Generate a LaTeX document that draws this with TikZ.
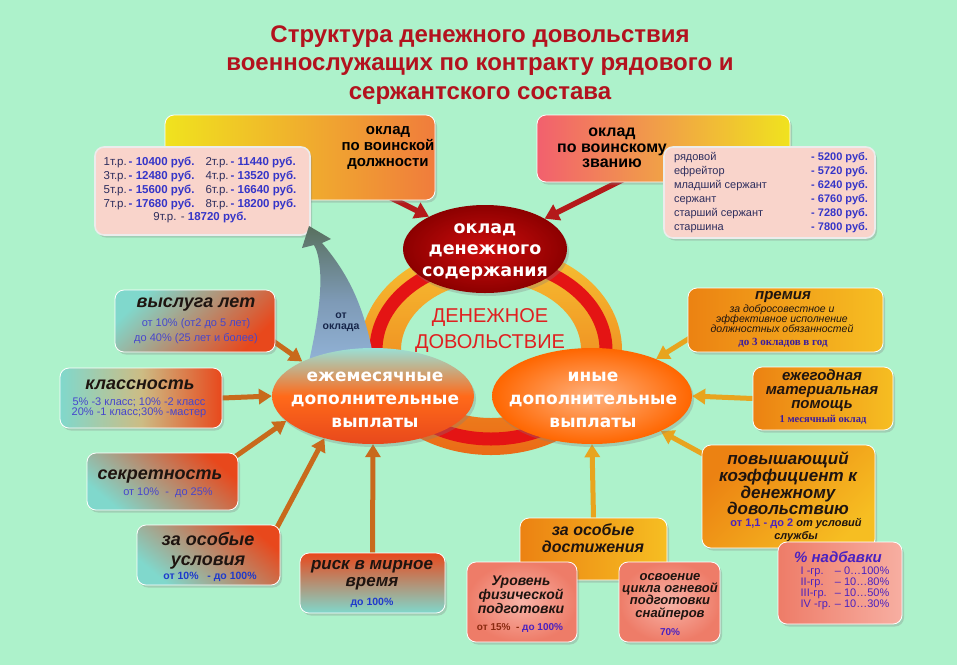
\documentclass[tikz,border=0pt]{standalone}
\usepackage{fontspec}
\setmainfont{Liberation Sans}
\newfontfamily\dvs{DejaVu Sans}
\newfontfamily\serifb{Liberation Serif}
\usetikzlibrary{shadows,arrows.meta,shapes.geometric,calc}
\pgfdeclarelayer{bgl}
\pgfdeclarelayer{arl}
\pgfsetlayers{bgl,arl,main}
\definecolor{bgc}{HTML}{ADF2CB}
\definecolor{titlec}{HTML}{B3121E}
\definecolor{ringT}{HTML}{F7C232}
\definecolor{ringB}{HTML}{EA6A16}
\definecolor{ringR}{HTML}{E41414}
\definecolor{yel}{HTML}{F0E31E}
\definecolor{orgB}{HTML}{F07C3C}
\definecolor{pinkr}{HTML}{F2606E}
\definecolor{tpink}{HTML}{F9D4CB}
\definecolor{valc}{HTML}{3535C8}
\definecolor{labc}{HTML}{2E2E5E}
\definecolor{teal}{HTML}{80D8CC}
\definecolor{redor}{HTML}{E8481C}
\definecolor{blu}{HTML}{4646CC}
\definecolor{bblu}{HTML}{1E3ACC}
\definecolor{org1}{HTML}{EC8212}
\definecolor{org2}{HTML}{F6BE22}
\definecolor{salm1}{HTML}{F8B4A8}
\definecolor{salm2}{HTML}{EE7C68}
\definecolor{purp}{HTML}{3A1C9E}
\definecolor{purp2}{HTML}{4A22C0}
\definecolor{brownc}{HTML}{8A2A10}
\definecolor{darkt}{HTML}{1E1410}
\definecolor{larrc}{HTML}{C86A1C}
\definecolor{rarrc}{HTML}{E8A41E}
\definecolor{tarrc}{HTML}{B41A1A}
\definecolor{ddred}{HTML}{E02020}
\definecolor{bandT}{HTML}{58705E}
\definecolor{bandM}{HTML}{7E9AB6}
\definecolor{bandB}{HTML}{96B8DE}
\definecolor{navy}{HTML}{17264A}
\newcommand\myval[1]{\textcolor{valc}{\bfseries #1}}
\tikzset{
  rbox/.style={rectangle, rounded corners=9pt, draw=white, line width=0.8pt, inner sep=0pt,
    drop shadow={opacity=0.3,shadow xshift=2pt,shadow yshift=-2.5pt}},
  tbox/.style={rbox, fill=tpink, draw=white!85!gray, line width=1.6pt},
  ell/.style={ellipse, inner sep=0pt, draw=none,
    drop shadow={opacity=0.3,shadow xshift=2pt,shadow yshift=-3pt}},
  txt/.style={inner sep=0pt, align=center},
  hd/.style={txt, text=darkt, font=\bfseries\itshape\fontsize{18}{20}\selectfont},
  sm/.style={txt, text=blu, font=\fontsize{11}{15}\selectfont},
  wt/.style={txt, text=white, font=\dvs\bfseries\fontsize{17}{23}\selectfont},
  larr/.style={draw=larrc, line width=5pt, -{Triangle[length=13pt,width=15pt]}},
  rarr/.style={draw=rarrc, line width=5pt, -{Triangle[length=13pt,width=15pt]}},
  tarr/.style={draw=tarrc, line width=5.5pt, -{Triangle[length=14pt,width=17pt]}},
}
\begin{document}
\begin{tikzpicture}[x=1pt,y=-1pt]
\begin{pgfonlayer}{bgl}
\fill[bgc] (0,0) rectangle (957,665);
\path[even odd rule, top color=ringT, bottom color=ringB]
  (491,350) ellipse [x radius=131, y radius=105] (491,350) ellipse [x radius=90, y radius=68];
\draw[ringR, line width=13pt] (491,350) ellipse [x radius=115, y radius=89];
\end{pgfonlayer}
\useasboundingbox (0,0) rectangle (957,665);

% title
\node[txt, text=titlec, font=\bfseries\fontsize{24}{28.5}\selectfont] (title) at (480,65)
  {Структура денежного довольствия\\военнослужащих по контракту рядового и\\сержантского состава};

% top left
\node[rbox, left color=yel, right color=orgB, minimum width=270pt, minimum height=85pt] (B1) at (300,157.5) {};
\node[txt, font=\bfseries\fontsize{15}{16}\selectfont] (B1t) at (388,148) {оклад\\по воинской\\должности};
\node[tbox, minimum width=215pt, minimum height=88pt] (T1) at (202.5,191) {};
\node[inner sep=0pt, text=labc, font=\fontsize{11.5}{13.8}\selectfont] (T1t) at (200,190.5)
 {\begin{tabular}{@{}l@{\,}l@{\hspace{11pt}}l@{\,}l@{}}
  1т.р. & \myval{- 10400 руб.} & 2т.р. & \myval{- 11440 руб.}\\
  3т.р. & \myval{- 12480 руб.} & 4т.р. & \myval{- 13520 руб.}\\
  5т.р. & \myval{- 15600 руб.} & 6т.р. & \myval{- 16640 руб.}\\
  7т.р. & \myval{- 17680 руб.} & 8т.р. & \myval{- 18200 руб.}\\
  \multicolumn{4}{c}{9т.р. - \myval{18720 руб.}}
 \end{tabular}};

% top right
\node[rbox, left color=pinkr, right color=yel, minimum width=253pt, minimum height=67pt] (B2) at (663.5,148.5) {};
\node[txt, font=\bfseries\fontsize{16}{15.5}\selectfont] (B2t) at (612,148) {оклад\\по воинскому\\званию};
\node[tbox, minimum width=211pt, minimum height=91pt] (T2) at (769.5,192.5) {};
\node[inner sep=0pt, text=labc, font=\fontsize{11}{14}\selectfont] (T2t) at (771,193)
 {\begin{tabular*}{194pt}{@{}l@{\extracolsep{\fill}}r@{}}
  рядовой & \myval{- 5200 руб.}\\
  ефрейтор & \myval{- 5720 руб.}\\
  младший сержант & \myval{- 6240 руб.}\\
  сержант & \myval{- 6760 руб.}\\
  старший сержант & \myval{- 7280 руб.}\\
  старшина & \myval{- 7800 руб.}
 \end{tabular*}};

% blue band arrow
\path[top color=bandT, bottom color=bandB, middle color=bandM]
  (306,376) -- (310,357) .. controls (316,330) and (322,295) .. (320,270)
  .. controls (319,258) and (317,250) .. (314,245) -- (302,248) -- (309,226) -- (331,239) -- (322,243)
  .. controls (345,270) and (362,300) .. (372,350) -- (380,376) -- cycle;
\node[txt, text=navy, font=\bfseries\fontsize{10.5}{11}\selectfont] (ok) at (341,322) {от\\оклада};

% center
\node[ell, minimum width=164pt, minimum height=88pt, inner color=red!80!black!95!white, outer color=red!55!black] (C) at (485,249) {};
\node[wt, font=\dvs\bfseries\fontsize{17.5}{21.5}\selectfont] (Ct) at (485,251.5) {оклад\\денежного\\содержания};
\node[txt, text=ddred, font=\fontsize{20}{26}\selectfont] (DD) at (490,330) {ДЕНЕЖНОЕ\\ДОВОЛЬСТВИЕ};

\node[ell, minimum width=202pt, minimum height=96pt, top color=teal!80!white, bottom color=redor, middle color=orange!70!red!90!white] (L) at (373,396) {};
\node[wt] (Lt) at (375,400) {ежемесячные\\дополнительные\\выплаты};
\node[ell, minimum width=200pt, minimum height=96pt, inner color=orange!45!white!90!red, outer color=orange!80!red] (R) at (592,396) {};
\node[wt] (Rt) at (593,400) {иные\\дополнительные\\выплаты};

% left boxes
\node[rbox, top color=teal, bottom color=redor, shading angle=45, minimum width=160pt, minimum height=62pt] (V) at (195,321) {};
\node[hd] (Vh) at (196,305) {выслуга лет};
\node[sm] (Vl) at (196,331) {от 10\% (от2 до 5 лет)\\до 40\% (25 лет и более)};

\node[rbox, left color=teal, right color=redor, middle color=orange!50!teal!80!white, minimum width=162pt, minimum height=60pt] (K) at (141,398) {};
\node[hd] (Kh) at (140,385) {классность};
\node[sm, font=\fontsize{11}{10}\selectfont] (Kl) at (139,407.5) {5\% -3 класс; 10\% -2 класс\\20\% -1 класс;30\% -мастер};

\node[rbox, top color=redor, bottom color=teal, shading angle=-40, minimum width=151pt, minimum height=57pt] (S) at (162.5,481.5) {};
\node[hd] (Sh) at (160,477) {секретность};
\node[sm] (Sl) at (168,493) {от 10\% \ - \ до 25\%};

\node[rbox, top color=redor, bottom color=teal, shading angle=-40, minimum width=143pt, minimum height=60pt] (U) at (208.5,555) {};
\node[hd] (Uh) at (208,551) {за особые\\условия};
\node[sm, text=bblu, font=\bfseries\fontsize{10.5}{12}\selectfont] (Ul) at (210,577) {от 10\% \ \ - до 100\%};

\node[rbox, top color=redor, bottom color=teal, minimum width=145pt, minimum height=60pt] (Rk) at (372.5,583) {};
\node[hd, font=\bfseries\itshape\fontsize{17}{17}\selectfont] (Rh) at (372,575.5) {риск в мирное\\время};
\node[sm, text=bblu, font=\bfseries\fontsize{10.5}{12}\selectfont] (Rl) at (372,603) {до 100\%};

% right boxes
\node[rbox, left color=org1, right color=org2, minimum width=195pt, minimum height=64pt] (P) at (785.5,320) {};
\node[hd, font=\bfseries\itshape\fontsize{15}{16}\selectfont] (Ph) at (783,297) {премия};
\node[txt, text=darkt, font=\itshape\fontsize{10.5}{10}\selectfont] (Pl) at (782,319) {за добросовестное и\\эффективное исполнение\\должностных обязанностей};
\node[txt, text=purp, font=\serifb\bfseries\fontsize{11}{12}\selectfont] (Pv) at (783,342.5) {до 3 окладов в год};

\node[rbox, left color=org1, right color=org2, minimum width=140pt, minimum height=63pt] (E) at (823,398.5) {};
\node[hd, font=\bfseries\itshape\fontsize{15}{14}\selectfont] (Eh) at (822,391) {ежегодная\\материальная\\помощь};
\node[txt, text=purp, font=\serifb\bfseries\fontsize{10.5}{12}\selectfont] (Ev) at (823,420) {1 месячный оклад};

\node[rbox, top color=org1, bottom color=org2, shading angle=45, minimum width=173pt, minimum height=103pt] (H) at (788.5,496.5) {};
\node[hd, font=\bfseries\itshape\fontsize{17}{14.5}\selectfont] (Hh) at (788,483.5) {повышающий\\коэффициент к\\денежному\\довольствию};
\node[txt, text=darkt, font=\bfseries\itshape\fontsize{11}{13}\selectfont] (Hl) at (796,530) {\textcolor{purp2}{\upshape от 1,1 - до 2} от условий\\службы};

\node[rbox, left color=salm2, right color=salm1!90!salm2, minimum width=124pt, minimum height=82pt] (N) at (840,583) {};
\node[txt, text=purp2, font=\bfseries\itshape\fontsize{15}{16}\selectfont] (Nh) at (838,557) {\% надбавки};
\node[inner sep=0pt, text=purp2, font=\fontsize{11}{11}\selectfont] (Nl) at (845,589)
 {\begin{tabular}{@{}l@{\hspace{4pt}}l@{}}
  I -гр. & – 0…100\%\\ II-гр. & – 10…80\%\\ III-гр. & – 10…50\%\\ IV -гр. & – 10…30\%
 \end{tabular}};

\node[rbox, left color=org1, right color=org2, minimum width=147pt, minimum height=62pt] (D) at (593.5,549) {};
\node[hd, font=\bfseries\itshape\fontsize{16}{16.5}\selectfont] (Dh) at (593,538) {за особые\\достижения};

\node[rbox, inner color=salm1, outer color=salm2, minimum width=110pt, minimum height=80pt] (F) at (522,602) {};
\node[hd, font=\bfseries\itshape\fontsize{14}{13}\selectfont] (Fh) at (521,595) {Уровень\\физической\\подготовки};
\node[txt, font=\bfseries\fontsize{10}{12}\selectfont] (Fv) at (520,628) {\textcolor{brownc}{от 15\%} \ \textcolor{brownc}{-} \textcolor{purp2}{до 100\%}};

\node[rbox, inner color=salm1, outer color=salm2, minimum width=101pt, minimum height=80pt] (O) at (669.5,602) {};
\node[hd, font=\bfseries\itshape\fontsize{13}{12.3}\selectfont] (Oh) at (670,596.5) {освоение\\цикла огневой\\подготовки\\снайперов};
\node[txt, text=purp2, font=\bfseries\fontsize{10}{12}\selectfont] (Ov) at (670,632) {70\%};

% arrows
\begin{pgfonlayer}{arl}
\draw[tarr] ($(B1.south)+(72,-12)$) -- (C.150);
\draw[tarr] ($(B2.south)+(-38,-4)$) -- (C.27);
\draw[larr] ($(V.south east)+(-6,-14)$) -- (L.154);
\draw[larr] (K.east) -- (L.180);
\draw[larr] ($(S.north east)+(-6,6)$) -- (L.196);
\draw[larr] ($(U.north east)+(-4,4)$) -- (L.221);
\draw[larr] (Rk.north) -- (L.south);
\draw[rarr] ($(P.south west)+(8,-18)$) -- (R.30);
\draw[rarr] (E.west) -- (R.0);
\draw[rarr] ($(H.north west)+(6,12)$) -- (R.-27);
\draw[rarr] (D.north) -- (R.south);
\end{pgfonlayer}
\end{tikzpicture}
\end{document}
